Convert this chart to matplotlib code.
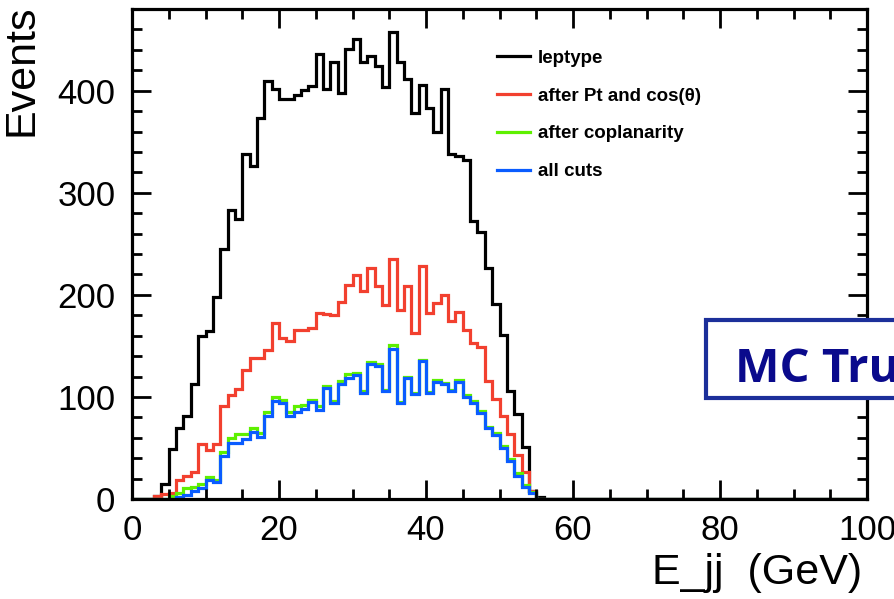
import matplotlib.pyplot as plt
from matplotlib.patches import Rectangle

edges = list(range(0, 101))

leptype = [0, 0, 0, 3, 15, 49, 70, 81, 113, 160,
           165, 198, 245, 283, 274, 338, 326, 373, 409, 402,
           392, 392, 396, 401, 405, 436, 402, 428, 398, 441,
           451, 428, 434, 424, 404, 457, 428, 411, 378, 406,
           383, 360, 402, 338, 336, 332, 272, 262, 226, 191,
           161, 106, 83, 51, 8, 2] + [0] * 44
pt_cos = [0, 0, 0, 3, 5, 6, 19, 23, 26, 54,
          48, 54, 91, 102, 108, 126, 138, 138, 146, 172,
          158, 155, 166, 166, 168, 182, 181, 180, 193, 210,
          219, 204, 226, 209, 190, 235, 185, 209, 163, 228,
          182, 192, 200, 174, 183, 166, 153, 149, 116, 98,
          81, 64, 43, 26, 8, 0] + [0] * 44
coplan = [0, 0, 0, 0, 0, 3, 6, 11, 12, 15,
          22, 19, 46, 60, 64, 64, 70, 65, 85, 100,
          97, 85, 91, 92, 97, 91, 111, 96, 116, 122,
          123, 106, 134, 132, 107, 151, 95, 120, 104, 136,
          105, 117, 114, 107, 117, 102, 96, 86, 71, 65,
          52, 39, 25, 14, 7, 0] + [0] * 44
allcuts = [0, 0, 0, 0, 0, 0, 2, 4, 8, 11,
           19, 17, 42, 55, 55, 59, 66, 61, 81, 96,
           94, 81, 85, 88, 95, 87, 109, 94, 113, 119,
           121, 104, 132, 130, 106, 147, 94, 119, 103, 135,
           104, 115, 113, 106, 115, 100, 94, 84, 70, 63,
           50, 37, 23, 12, 6, 0] + [0] * 44

labels = ['leptype', 'after Pt and cos(θ)', 'after coplanarity', 'all cuts']
colors = ['black', '#f2402f', '#5ef000', '#0a5cff']

plt.rcParams['font.family'] = ['Liberation Sans', 'DejaVu Sans']

W, H = 894, 599
fig = plt.figure(figsize=(W / 100, H / 100), dpi=100)
ax = fig.add_axes([132 / W, (H - 499) / H, (867 - 132) / W, (499 - 9) / H])

for vals, lab, c in zip([leptype, pt_cos, coplan, allcuts], labels, colors):
    ax.stairs(vals, edges, color=c, lw=2.3, label=lab)

ax.set_xlim(0, 100)
ax.set_ylim(0, 480)
ax.set_xticks(range(0, 101, 20))
ax.set_xticks(range(0, 101, 5), minor=True)
ax.set_yticks(range(0, 401, 100))
ax.set_yticks(range(0, 481, 20), minor=True)
ax.tick_params(which='both', direction='in', top=True, right=True, width=2)
ax.tick_params(which='major', length=14, labelsize=25)
ax.tick_params(axis='y', which='major', pad=12)
ax.tick_params(axis='x', which='major', pad=11)
ax.tick_params(which='minor', length=7)
for s in ax.spines.values():
    s.set_linewidth(2.3)

ax.legend(loc='upper left', bbox_to_anchor=(480 / W, 1 - 33 / H), bbox_transform=fig.transFigure,
          frameon=False, prop={'weight': 'bold', 'size': 13.5}, handlelength=1.75,
          handletextpad=0.45, labelspacing=1.1)

fig.text(22 / W, 1 - 4 / H, 'Events', rotation=90, ha='center', va='top', fontsize=31)
fig.text(862 / W, 1 - 584 / H, 'E_jj  (GeV)', ha='right', va='baseline', fontsize=31)

fig.patches.append(Rectangle((706 / W, 1 - 398 / H), 250 / W, 78 / H, transform=fig.transFigure,
                             fill=True, facecolor='white', edgecolor='#1c2f9a', lw=3))
fig.text(735 / W, 1 - 382 / H, 'MC Truth', color='#0a0a8c', fontsize=34,
         fontweight='bold', family=['Open Sans'], ha='left', va='baseline')

fig.savefig('out.png', dpi=100)
